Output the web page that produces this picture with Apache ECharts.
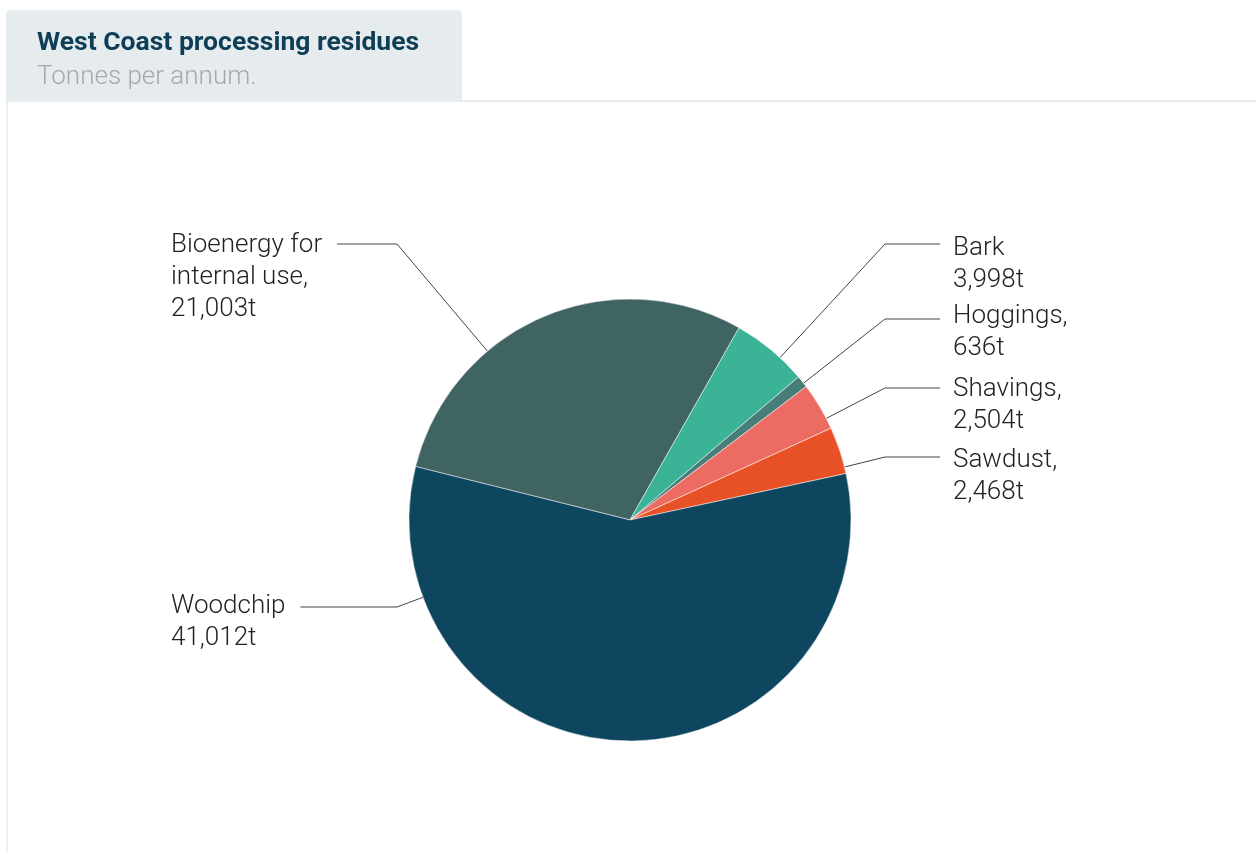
<!DOCTYPE html>
<html>
<head>
<meta charset="utf-8">
<title>West Coast processing residues</title>
<script src="https://cdn.jsdelivr.net/npm/echarts@6/dist/echarts.min.js"></script>
<style>
  html, body { margin: 0; padding: 0; background: #ffffff; }
  #chart { width: 1256px; height: 853px; }
</style>
</head>
<body>
<div id="chart"></div>
<script>
// Residue categories, in clockwise order starting from the Bioenergy slice
const categories = ['Bioenergy for\ninternal use,', 'Bark', 'Hoggings,', 'Shavings,', 'Sawdust,', 'Woodchip'];
// Tonnes per annum for each category
const tonnes = [21003, 3998, 636, 2504, 2468, 41012];
// Slice colours
const palette = ['#406462', '#3bb396', '#477e7a', '#ec6b62', '#e85025', '#0e4660'];

// Pie geometry
const CX = 630, CY = 520, R = 221;
// Label placement: side of the pie, first-line centre of the text and height of the connector
const labelSide = ['left', 'right', 'right', 'right', 'right', 'left'];
const labelTextY = [245, 248, 316, 389, 460, 606];
const labelLineY = [244, 244, 319, 388, 457, 607];
const LEFT_TEXT_X = 171, LEFT_ELBOW_X = 397;
const RIGHT_TEXT_X = 953, RIGHT_ELBOW_X = 885, RIGHT_LINE_END = 940;
const LINE_H = 32;

const chart = echarts.init(document.getElementById('chart'), null, { renderer: 'canvas' });

const fmt = v => v.toLocaleString('en-US') + 't';

chart.setOption({
  animation: false,
  backgroundColor: '#ffffff',
  graphic: [
    // title tab
    { type: 'rect', z: -10, shape: { x: 6, y: 10, width: 456, height: 92, r: [5, 5, 0, 0] },
      style: { fill: '#e6ebee' } },
    // panel border
    { type: 'line', z: -10, shape: { x1: 462, y1: 101, x2: 1256, y2: 101 },
      style: { stroke: '#e8ecef', lineWidth: 2 } },
    { type: 'line', z: -10, shape: { x1: 7, y1: 102, x2: 7, y2: 853 },
      style: { stroke: '#eef1f3', lineWidth: 2 } }
  ],
  title: {
    text: 'West Coast processing residues',
    subtext: 'Tonnes per annum.',
    left: 37,
    top: 28,
    padding: 0,
    itemGap: 5,
    textStyle: { fontFamily: 'Roboto', fontSize: 26.5, fontWeight: 'bold', color: '#0f3f57', lineHeight: 30 },
    subtextStyle: { fontFamily: 'Roboto', fontSize: 26, fontWeight: 300, color: '#a3a9ad', lineHeight: 28 }
  },
  series: [{
    type: 'pie',
    center: [CX, CY],
    radius: R,
    startAngle: 166,
    clockwise: true,
    avoidLabelOverlap: false,
    itemStyle: { borderColor: '#ffffff', borderWidth: 0.5 },
    data: categories.map((name, i) => ({ name: name, value: tonnes[i], itemStyle: { color: palette[i] } })),
    label: {
      show: true,
      position: 'outside',
      formatter: p => p.name + '\n' + fmt(p.value),
      fontFamily: 'Roboto',
      fontSize: 26,
      fontWeight: 300,
      lineHeight: LINE_H,
      color: '#222222'
    },
    labelLine: {
      show: true,
      lineStyle: { color: '#444444', width: 1 }
    },
    emphasis: { disabled: true },
    labelLayout: function (p) {
      const i = p.dataIndex;
      const right = labelSide[i] === 'right';
      const rowY = labelLineY[i];
      const ex = right ? RIGHT_ELBOW_X : LEFT_ELBOW_X;
      // connector touches the rim on the line running from the elbow to the centre
      const vx = ex - CX, vy = rowY - CY;
      const d = Math.sqrt(vx * vx + vy * vy);
      const ax = CX + vx / d * R, ay = CY + vy / d * R;
      const endX = right ? RIGHT_LINE_END : LEFT_TEXT_X + p.labelRect.width + 15;
      return {
        x: right ? RIGHT_TEXT_X : LEFT_TEXT_X,
        y: labelTextY[i] - LINE_H / 2,
        align: 'left',
        verticalAlign: 'top',
        labelLinePoints: [[ax, ay], [ex, rowY], [endX, rowY]]
      };
    }
  }]
});
</script>
</body>
</html>
